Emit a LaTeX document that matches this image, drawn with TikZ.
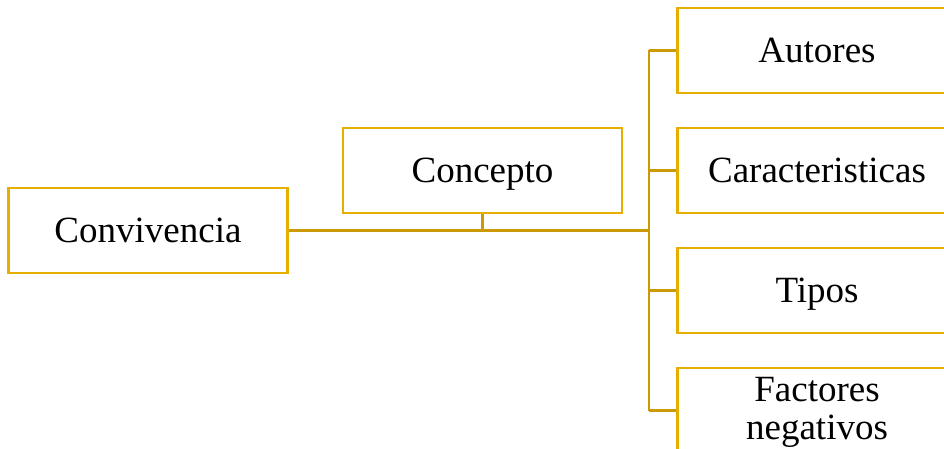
\documentclass[tikz,border=0pt]{standalone}
\usepackage{fontspec}
\setmainfont{Liberation Serif}
\definecolor{boxgold}{HTML}{E6AF00}
\definecolor{linegold}{HTML}{CC9A06}
\begin{document}
\begin{tikzpicture}[x=1pt,y=-1pt,
  box/.style={draw=boxgold, line width=2.6pt, rectangle, minimum width=279pt, minimum height=85pt, inner sep=0pt, align=center, text height=32pt, text depth=8pt, font=\fontsize{37}{38}\selectfont, fill=white},
  conn/.style={draw=linegold, line width=2.6pt}]
\useasboundingbox (0,0) rectangle (944,449);
\clip (0,0) rectangle (944,449);
\fill[white] (0,0) rectangle (944,449);
\node[box] (conv) at (148,230.5) {Convivencia};
\node[box] (conc) at (482.5,170.5) {Concepto};
\node[box] (aut) at (817,50.5) {Autores};
\node[box] (car) at (817,170.5) {Caracteristicas};
\node[box] (tip) at (817,290.5) {Tipos};
\node[box, text height=66pt] (fac) at (817,410.5) {Factores\\negativos};
\coordinate (j) at (649,230.5);
\coordinate (jc) at (482.5,230.5);
\coordinate (top) at (649,50.5);
\coordinate (bot) at (649,410.5);
\draw[conn] (conv.east) -- (j);
\draw[conn] (conc.south) -- (jc);
\draw[conn] (top) -- (bot);
\draw[conn] (top) -- (aut.west);
\draw[conn] (649,170.5) -- (car.west);
\draw[conn] (649,290.5) -- (tip.west);
\draw[conn] (bot) -- (fac.west);
\end{tikzpicture}
\end{document}
